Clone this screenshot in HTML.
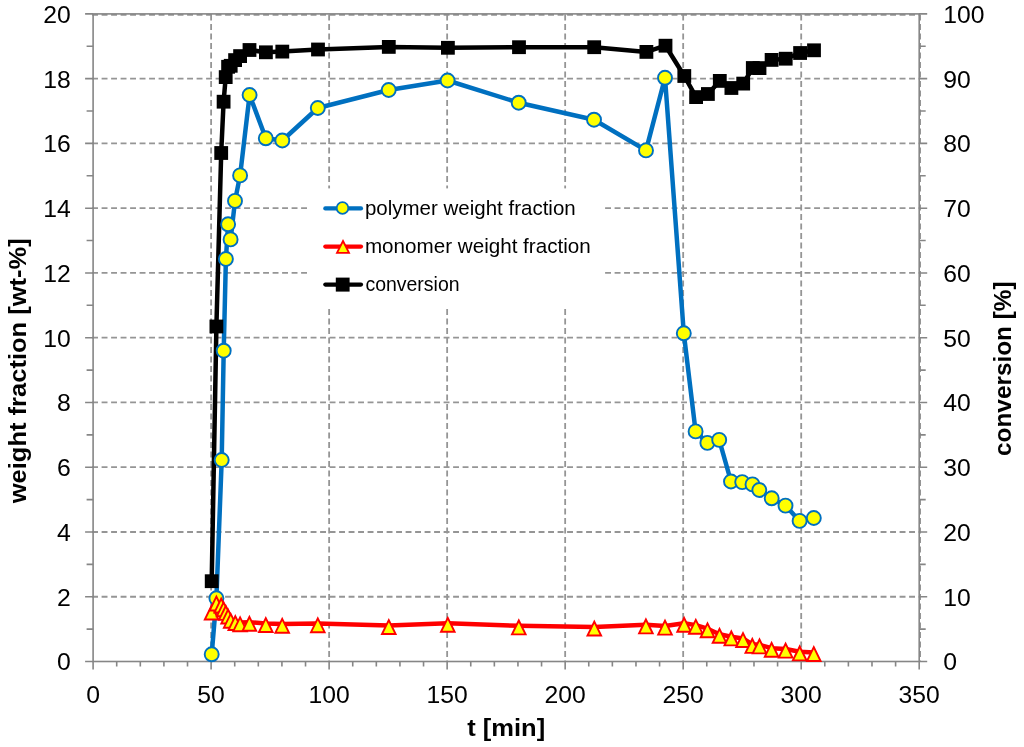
<!DOCTYPE html><html><head><meta charset="utf-8"><style>html,body{margin:0;padding:0;background:#fff;}svg{display:block;}text{font-family:"Liberation Sans",sans-serif;}svg{will-change:transform;}</style></head><body>
<svg width="1024" height="747" viewBox="0 0 1024 747">
<rect width="1024" height="747" fill="#fff"/>
<path d="M92.1 596.74H919.2 M92.1 531.98H919.2 M92.1 467.22H919.2 M92.1 402.46H919.2 M92.1 337.70H919.2 M92.1 272.94H919.2 M92.1 208.18H919.2 M92.1 143.42H919.2 M92.1 78.66H919.2 M92.1 14.80H919.2 M211.11 14.5V661.5 M329.13 14.5V661.5 M447.14 14.5V661.5 M565.16 14.5V661.5 M683.17 14.5V661.5 M801.19 14.5V661.5 M920.10 14.5V661.5" stroke="#959595" stroke-width="1.8" stroke-dasharray="5.9 3.6" fill="none"/>
<rect x="93.1" y="13.9" width="826.10" height="647.60" fill="none" stroke="#868686" stroke-width="1.6"/>
<path d="M85.10 661.50H93.1 M919.2 661.50H927.20 M86.60 629.12H93.1 M919.2 629.12H925.70 M85.10 596.74H93.1 M919.2 596.74H927.20 M86.60 564.36H93.1 M919.2 564.36H925.70 M85.10 531.98H93.1 M919.2 531.98H927.20 M86.60 499.60H93.1 M919.2 499.60H925.70 M85.10 467.22H93.1 M919.2 467.22H927.20 M86.60 434.84H93.1 M919.2 434.84H925.70 M85.10 402.46H93.1 M919.2 402.46H927.20 M86.60 370.08H93.1 M919.2 370.08H925.70 M85.10 337.70H93.1 M919.2 337.70H927.20 M86.60 305.32H93.1 M919.2 305.32H925.70 M85.10 272.94H93.1 M919.2 272.94H927.20 M86.60 240.56H93.1 M919.2 240.56H925.70 M85.10 208.18H93.1 M919.2 208.18H927.20 M86.60 175.80H93.1 M919.2 175.80H925.70 M85.10 143.42H93.1 M919.2 143.42H927.20 M86.60 111.04H93.1 M919.2 111.04H925.70 M85.10 78.66H93.1 M919.2 78.66H927.20 M86.60 46.28H93.1 M919.2 46.28H925.70 M85.10 13.90H93.1 M919.2 13.90H927.20 M93.10 661.5V669.50 M116.70 661.5V666.50 M140.31 661.5V666.50 M163.91 661.5V666.50 M187.51 661.5V666.50 M211.11 661.5V669.50 M234.72 661.5V666.50 M258.32 661.5V666.50 M281.92 661.5V666.50 M305.53 661.5V666.50 M329.13 661.5V669.50 M352.73 661.5V666.50 M376.33 661.5V666.50 M399.94 661.5V666.50 M423.54 661.5V666.50 M447.14 661.5V669.50 M470.75 661.5V666.50 M494.35 661.5V666.50 M517.95 661.5V666.50 M541.55 661.5V666.50 M565.16 661.5V669.50 M588.76 661.5V666.50 M612.36 661.5V666.50 M635.97 661.5V666.50 M659.57 661.5V666.50 M683.17 661.5V669.50 M706.77 661.5V666.50 M730.38 661.5V666.50 M753.98 661.5V666.50 M777.58 661.5V666.50 M801.19 661.5V669.50 M824.79 661.5V666.50 M848.39 661.5V666.50 M871.99 661.5V666.50 M895.60 661.5V666.50 M919.20 661.5V669.50" stroke="#868686" stroke-width="1.6" fill="none"/>
<path d="M211.7 654.3 L216.4 598.3 L221.7 460.0 L223.7 350.7 L225.9 259.0 L228.1 224.3 L230.6 239.4 L235.0 200.9 L240.1 175.4 L249.6 95.0 L265.8 138.3 L282.3 140.5 L317.8 108.0 L388.7 90.0 L447.6 80.5 L518.7 102.7 L594.0 119.7 L646.0 150.4 L665.0 77.8 L683.8 333.3 L695.6 431.4 L707.4 442.9 L719.2 439.9 L731.0 481.5 L742.2 482.1 L752.5 484.4 L759.3 490.0 L771.7 498.3 L785.5 505.6 L799.6 520.9 L813.8 518.0" stroke="#0070C0" stroke-width="4.5" fill="none" stroke-linejoin="round"/>
<path d="M211.6 610.9 L216.4 601.9 L221.2 603.9 L223.6 607.7 L225.8 611.3 L228.1 614.9 L230.7 619.1 L235.3 621.4 L240.1 622.6 L249.4 622.2 L265.8 623.4 L282.2 624.1 L317.8 623.6 L388.8 625.4 L447.8 623.2 L518.8 625.8 L594.3 626.9 L645.9 624.8 L665.0 626.0 L684.1 623.2 L695.8 625.1 L707.5 628.7 L719.5 634.2 L731.3 636.8 L743.0 638.4 L752.3 644.3 L759.5 644.8 L771.6 648.2 L785.6 649.0 L799.7 651.8 L813.8 652.4" stroke="#FF0000" stroke-width="4.5" fill="none" stroke-linejoin="round"/>
<path d="M211.7 581.2 L216.4 326.5 L221.2 153.0 L223.6 101.7 L225.7 77.1 L228.1 66.8 L230.7 65.8 L235.1 60.1 L240.1 56.1 L249.5 50.0 L265.9 52.3 L282.3 51.6 L318.0 49.5 L388.8 46.9 L447.9 47.8 L519.0 47.2 L594.2 47.2 L646.4 51.9 L665.5 45.7 L684.3 76.0 L696.1 97.1 L707.9 94.0 L719.8 80.9 L731.4 88.0 L743.2 83.6 L752.8 68.0 L759.5 68.1 L771.6 59.9 L785.7 58.7 L800.1 53.0 L814.0 50.3" stroke="#000" stroke-width="4.5" fill="none" stroke-linejoin="round"/>
<circle cx="211.7" cy="654.3" r="7" fill="#FFFF00" stroke="#0070C0" stroke-width="1.9"/>
<circle cx="216.4" cy="598.3" r="7" fill="#FFFF00" stroke="#0070C0" stroke-width="1.9"/>
<circle cx="221.7" cy="460.0" r="7" fill="#FFFF00" stroke="#0070C0" stroke-width="1.9"/>
<circle cx="223.7" cy="350.7" r="7" fill="#FFFF00" stroke="#0070C0" stroke-width="1.9"/>
<circle cx="225.9" cy="259.0" r="7" fill="#FFFF00" stroke="#0070C0" stroke-width="1.9"/>
<circle cx="228.1" cy="224.3" r="7" fill="#FFFF00" stroke="#0070C0" stroke-width="1.9"/>
<circle cx="230.6" cy="239.4" r="7" fill="#FFFF00" stroke="#0070C0" stroke-width="1.9"/>
<circle cx="235.0" cy="200.9" r="7" fill="#FFFF00" stroke="#0070C0" stroke-width="1.9"/>
<circle cx="240.1" cy="175.4" r="7" fill="#FFFF00" stroke="#0070C0" stroke-width="1.9"/>
<circle cx="249.6" cy="95.0" r="7" fill="#FFFF00" stroke="#0070C0" stroke-width="1.9"/>
<circle cx="265.8" cy="138.3" r="7" fill="#FFFF00" stroke="#0070C0" stroke-width="1.9"/>
<circle cx="282.3" cy="140.5" r="7" fill="#FFFF00" stroke="#0070C0" stroke-width="1.9"/>
<circle cx="317.8" cy="108.0" r="7" fill="#FFFF00" stroke="#0070C0" stroke-width="1.9"/>
<circle cx="388.7" cy="90.0" r="7" fill="#FFFF00" stroke="#0070C0" stroke-width="1.9"/>
<circle cx="447.6" cy="80.5" r="7" fill="#FFFF00" stroke="#0070C0" stroke-width="1.9"/>
<circle cx="518.7" cy="102.7" r="7" fill="#FFFF00" stroke="#0070C0" stroke-width="1.9"/>
<circle cx="594.0" cy="119.7" r="7" fill="#FFFF00" stroke="#0070C0" stroke-width="1.9"/>
<circle cx="646.0" cy="150.4" r="7" fill="#FFFF00" stroke="#0070C0" stroke-width="1.9"/>
<circle cx="665.0" cy="77.8" r="7" fill="#FFFF00" stroke="#0070C0" stroke-width="1.9"/>
<circle cx="683.8" cy="333.3" r="7" fill="#FFFF00" stroke="#0070C0" stroke-width="1.9"/>
<circle cx="695.6" cy="431.4" r="7" fill="#FFFF00" stroke="#0070C0" stroke-width="1.9"/>
<circle cx="707.4" cy="442.9" r="7" fill="#FFFF00" stroke="#0070C0" stroke-width="1.9"/>
<circle cx="719.2" cy="439.9" r="7" fill="#FFFF00" stroke="#0070C0" stroke-width="1.9"/>
<circle cx="731.0" cy="481.5" r="7" fill="#FFFF00" stroke="#0070C0" stroke-width="1.9"/>
<circle cx="742.2" cy="482.1" r="7" fill="#FFFF00" stroke="#0070C0" stroke-width="1.9"/>
<circle cx="752.5" cy="484.4" r="7" fill="#FFFF00" stroke="#0070C0" stroke-width="1.9"/>
<circle cx="759.3" cy="490.0" r="7" fill="#FFFF00" stroke="#0070C0" stroke-width="1.9"/>
<circle cx="771.7" cy="498.3" r="7" fill="#FFFF00" stroke="#0070C0" stroke-width="1.9"/>
<circle cx="785.5" cy="505.6" r="7" fill="#FFFF00" stroke="#0070C0" stroke-width="1.9"/>
<circle cx="799.6" cy="520.9" r="7" fill="#FFFF00" stroke="#0070C0" stroke-width="1.9"/>
<circle cx="813.8" cy="518.0" r="7" fill="#FFFF00" stroke="#0070C0" stroke-width="1.9"/>
<path d="M211.6 605.6L218.4 619.5H204.8Z" fill="#FFFF00" stroke="#FF0000" stroke-width="1.9"/>
<path d="M216.4 596.6L223.2 610.5H209.6Z" fill="#FFFF00" stroke="#FF0000" stroke-width="1.9"/>
<path d="M221.2 598.6L228.0 612.5H214.4Z" fill="#FFFF00" stroke="#FF0000" stroke-width="1.9"/>
<path d="M223.6 602.4L230.4 616.3H216.8Z" fill="#FFFF00" stroke="#FF0000" stroke-width="1.9"/>
<path d="M225.8 606.0L232.6 619.9H219.0Z" fill="#FFFF00" stroke="#FF0000" stroke-width="1.9"/>
<path d="M228.1 609.6L234.9 623.5H221.3Z" fill="#FFFF00" stroke="#FF0000" stroke-width="1.9"/>
<path d="M230.7 613.8L237.5 627.7H223.9Z" fill="#FFFF00" stroke="#FF0000" stroke-width="1.9"/>
<path d="M235.3 616.1L242.1 630.0H228.5Z" fill="#FFFF00" stroke="#FF0000" stroke-width="1.9"/>
<path d="M240.1 617.3L246.9 631.2H233.3Z" fill="#FFFF00" stroke="#FF0000" stroke-width="1.9"/>
<path d="M249.4 616.9L256.2 630.8H242.6Z" fill="#FFFF00" stroke="#FF0000" stroke-width="1.9"/>
<path d="M265.8 618.1L272.6 632.0H259.0Z" fill="#FFFF00" stroke="#FF0000" stroke-width="1.9"/>
<path d="M282.2 618.8L289.0 632.7H275.4Z" fill="#FFFF00" stroke="#FF0000" stroke-width="1.9"/>
<path d="M317.8 618.3L324.6 632.2H311.0Z" fill="#FFFF00" stroke="#FF0000" stroke-width="1.9"/>
<path d="M388.8 620.1L395.6 634.0H382.0Z" fill="#FFFF00" stroke="#FF0000" stroke-width="1.9"/>
<path d="M447.8 617.9L454.6 631.8H441.0Z" fill="#FFFF00" stroke="#FF0000" stroke-width="1.9"/>
<path d="M518.8 620.5L525.6 634.4H512.0Z" fill="#FFFF00" stroke="#FF0000" stroke-width="1.9"/>
<path d="M594.3 621.6L601.1 635.5H587.5Z" fill="#FFFF00" stroke="#FF0000" stroke-width="1.9"/>
<path d="M645.9 619.5L652.7 633.4H639.1Z" fill="#FFFF00" stroke="#FF0000" stroke-width="1.9"/>
<path d="M665.0 620.7L671.8 634.6H658.2Z" fill="#FFFF00" stroke="#FF0000" stroke-width="1.9"/>
<path d="M684.1 617.9L690.9 631.8H677.3Z" fill="#FFFF00" stroke="#FF0000" stroke-width="1.9"/>
<path d="M695.8 619.8L702.6 633.7H689.0Z" fill="#FFFF00" stroke="#FF0000" stroke-width="1.9"/>
<path d="M707.5 623.4L714.3 637.3H700.7Z" fill="#FFFF00" stroke="#FF0000" stroke-width="1.9"/>
<path d="M719.5 628.9L726.3 642.8H712.7Z" fill="#FFFF00" stroke="#FF0000" stroke-width="1.9"/>
<path d="M731.3 631.5L738.1 645.4H724.5Z" fill="#FFFF00" stroke="#FF0000" stroke-width="1.9"/>
<path d="M743.0 633.1L749.8 647.0H736.2Z" fill="#FFFF00" stroke="#FF0000" stroke-width="1.9"/>
<path d="M752.3 639.0L759.1 652.9H745.5Z" fill="#FFFF00" stroke="#FF0000" stroke-width="1.9"/>
<path d="M759.5 639.5L766.3 653.4H752.7Z" fill="#FFFF00" stroke="#FF0000" stroke-width="1.9"/>
<path d="M771.6 642.9L778.4 656.8H764.8Z" fill="#FFFF00" stroke="#FF0000" stroke-width="1.9"/>
<path d="M785.6 643.7L792.4 657.6H778.8Z" fill="#FFFF00" stroke="#FF0000" stroke-width="1.9"/>
<path d="M799.7 646.5L806.5 660.4H792.9Z" fill="#FFFF00" stroke="#FF0000" stroke-width="1.9"/>
<path d="M813.8 647.1L820.6 661.0H807.0Z" fill="#FFFF00" stroke="#FF0000" stroke-width="1.9"/>
<rect x="204.8" y="574.3" width="13.8" height="13.8" fill="#000"/>
<rect x="209.5" y="319.6" width="13.8" height="13.8" fill="#000"/>
<rect x="214.3" y="146.1" width="13.8" height="13.8" fill="#000"/>
<rect x="216.7" y="94.8" width="13.8" height="13.8" fill="#000"/>
<rect x="218.8" y="70.2" width="13.8" height="13.8" fill="#000"/>
<rect x="221.2" y="59.9" width="13.8" height="13.8" fill="#000"/>
<rect x="223.8" y="58.9" width="13.8" height="13.8" fill="#000"/>
<rect x="228.2" y="53.2" width="13.8" height="13.8" fill="#000"/>
<rect x="233.2" y="49.2" width="13.8" height="13.8" fill="#000"/>
<rect x="242.6" y="43.1" width="13.8" height="13.8" fill="#000"/>
<rect x="259.0" y="45.4" width="13.8" height="13.8" fill="#000"/>
<rect x="275.4" y="44.7" width="13.8" height="13.8" fill="#000"/>
<rect x="311.1" y="42.6" width="13.8" height="13.8" fill="#000"/>
<rect x="381.9" y="40.0" width="13.8" height="13.8" fill="#000"/>
<rect x="441.0" y="40.9" width="13.8" height="13.8" fill="#000"/>
<rect x="512.1" y="40.3" width="13.8" height="13.8" fill="#000"/>
<rect x="587.3" y="40.3" width="13.8" height="13.8" fill="#000"/>
<rect x="639.5" y="45.0" width="13.8" height="13.8" fill="#000"/>
<rect x="658.6" y="38.8" width="13.8" height="13.8" fill="#000"/>
<rect x="677.4" y="69.1" width="13.8" height="13.8" fill="#000"/>
<rect x="689.2" y="90.2" width="13.8" height="13.8" fill="#000"/>
<rect x="701.0" y="87.1" width="13.8" height="13.8" fill="#000"/>
<rect x="712.9" y="74.0" width="13.8" height="13.8" fill="#000"/>
<rect x="724.5" y="81.1" width="13.8" height="13.8" fill="#000"/>
<rect x="736.3" y="76.7" width="13.8" height="13.8" fill="#000"/>
<rect x="745.9" y="61.1" width="13.8" height="13.8" fill="#000"/>
<rect x="752.6" y="61.2" width="13.8" height="13.8" fill="#000"/>
<rect x="764.7" y="53.0" width="13.8" height="13.8" fill="#000"/>
<rect x="778.8" y="51.8" width="13.8" height="13.8" fill="#000"/>
<rect x="793.2" y="46.1" width="13.8" height="13.8" fill="#000"/>
<rect x="807.1" y="43.4" width="13.8" height="13.8" fill="#000"/>
<rect x="308" y="188.4" width="297" height="119.6" fill="#fff"/>
<path d="M325.3 208.4H361" stroke="#0070C0" stroke-width="4.2" stroke-linecap="round"/>
<circle cx="342.5" cy="208.0" r="5.8" fill="#FFFF00" stroke="#0070C0" stroke-width="1.8"/>
<path d="M325.3 246.6H361" stroke="#FF0000" stroke-width="4.2" stroke-linecap="round"/>
<path d="M343 241.0L349 252.9H337Z" fill="#FFFF00" stroke="#FF0000" stroke-width="1.8"/>
<path d="M325.3 284.6H361" stroke="#000" stroke-width="4.2" stroke-linecap="round"/>
<rect x="335.8" y="277.6" width="13.8" height="14" fill="#000"/>
<text x="364.9" y="215.0" font-size="19.7" textLength="210.8" lengthAdjust="spacingAndGlyphs">polymer weight fraction</text>
<text x="364.9" y="253.0" font-size="19.7" textLength="225.9" lengthAdjust="spacingAndGlyphs">monomer weight fraction</text>
<text x="365.4" y="291.2" font-size="19.7" textLength="94.2" lengthAdjust="spacingAndGlyphs">conversion</text>
<text x="70.7" y="670.3" font-size="23.2" text-anchor="end" textLength="13.8" lengthAdjust="spacingAndGlyphs">0</text>
<text x="70.7" y="605.5" font-size="23.2" text-anchor="end" textLength="13.8" lengthAdjust="spacingAndGlyphs">2</text>
<text x="70.7" y="540.8" font-size="23.2" text-anchor="end" textLength="13.8" lengthAdjust="spacingAndGlyphs">4</text>
<text x="70.7" y="476.0" font-size="23.2" text-anchor="end" textLength="13.8" lengthAdjust="spacingAndGlyphs">6</text>
<text x="70.7" y="411.3" font-size="23.2" text-anchor="end" textLength="13.8" lengthAdjust="spacingAndGlyphs">8</text>
<text x="70.7" y="346.5" font-size="23.2" text-anchor="end" textLength="27.5" lengthAdjust="spacingAndGlyphs">10</text>
<text x="70.7" y="281.7" font-size="23.2" text-anchor="end" textLength="27.5" lengthAdjust="spacingAndGlyphs">12</text>
<text x="70.7" y="217.0" font-size="23.2" text-anchor="end" textLength="27.5" lengthAdjust="spacingAndGlyphs">14</text>
<text x="70.7" y="152.2" font-size="23.2" text-anchor="end" textLength="27.5" lengthAdjust="spacingAndGlyphs">16</text>
<text x="70.7" y="87.5" font-size="23.2" text-anchor="end" textLength="27.5" lengthAdjust="spacingAndGlyphs">18</text>
<text x="70.7" y="22.7" font-size="23.2" text-anchor="end" textLength="27.5" lengthAdjust="spacingAndGlyphs">20</text>
<text x="943.2" y="670.3" font-size="23.2" textLength="13.8" lengthAdjust="spacingAndGlyphs">0</text>
<text x="943.2" y="605.5" font-size="23.2" textLength="27.5" lengthAdjust="spacingAndGlyphs">10</text>
<text x="943.2" y="540.8" font-size="23.2" textLength="27.5" lengthAdjust="spacingAndGlyphs">20</text>
<text x="943.2" y="476.0" font-size="23.2" textLength="27.5" lengthAdjust="spacingAndGlyphs">30</text>
<text x="943.2" y="411.3" font-size="23.2" textLength="27.5" lengthAdjust="spacingAndGlyphs">40</text>
<text x="943.2" y="346.5" font-size="23.2" textLength="27.5" lengthAdjust="spacingAndGlyphs">50</text>
<text x="943.2" y="281.7" font-size="23.2" textLength="27.5" lengthAdjust="spacingAndGlyphs">60</text>
<text x="943.2" y="217.0" font-size="23.2" textLength="27.5" lengthAdjust="spacingAndGlyphs">70</text>
<text x="943.2" y="152.2" font-size="23.2" textLength="27.5" lengthAdjust="spacingAndGlyphs">80</text>
<text x="943.2" y="87.5" font-size="23.2" textLength="27.5" lengthAdjust="spacingAndGlyphs">90</text>
<text x="943.2" y="22.7" font-size="23.2" textLength="41.2" lengthAdjust="spacingAndGlyphs">100</text>
<text x="93.1" y="702.8" font-size="23.2" text-anchor="middle" textLength="13.8" lengthAdjust="spacingAndGlyphs">0</text>
<text x="211.1" y="702.8" font-size="23.2" text-anchor="middle" textLength="27.5" lengthAdjust="spacingAndGlyphs">50</text>
<text x="329.1" y="702.8" font-size="23.2" text-anchor="middle" textLength="41.2" lengthAdjust="spacingAndGlyphs">100</text>
<text x="447.1" y="702.8" font-size="23.2" text-anchor="middle" textLength="41.2" lengthAdjust="spacingAndGlyphs">150</text>
<text x="565.2" y="702.8" font-size="23.2" text-anchor="middle" textLength="41.2" lengthAdjust="spacingAndGlyphs">200</text>
<text x="683.2" y="702.8" font-size="23.2" text-anchor="middle" textLength="41.2" lengthAdjust="spacingAndGlyphs">250</text>
<text x="801.2" y="702.8" font-size="23.2" text-anchor="middle" textLength="41.2" lengthAdjust="spacingAndGlyphs">300</text>
<text x="919.2" y="702.8" font-size="23.2" text-anchor="middle" textLength="41.2" lengthAdjust="spacingAndGlyphs">350</text>
<text x="506.2" y="736" font-size="24" font-weight="bold" text-anchor="middle" textLength="78" lengthAdjust="spacingAndGlyphs">t [min]</text>
<text transform="translate(26 370.75) rotate(-90)" font-size="24" font-weight="bold" text-anchor="middle" textLength="265" lengthAdjust="spacingAndGlyphs">weight fraction [wt-%]</text>
<text transform="translate(1010.5 368.7) rotate(-90)" font-size="24" font-weight="bold" text-anchor="middle" textLength="174.5" lengthAdjust="spacingAndGlyphs">conversion [%]</text>
</svg></body></html>
